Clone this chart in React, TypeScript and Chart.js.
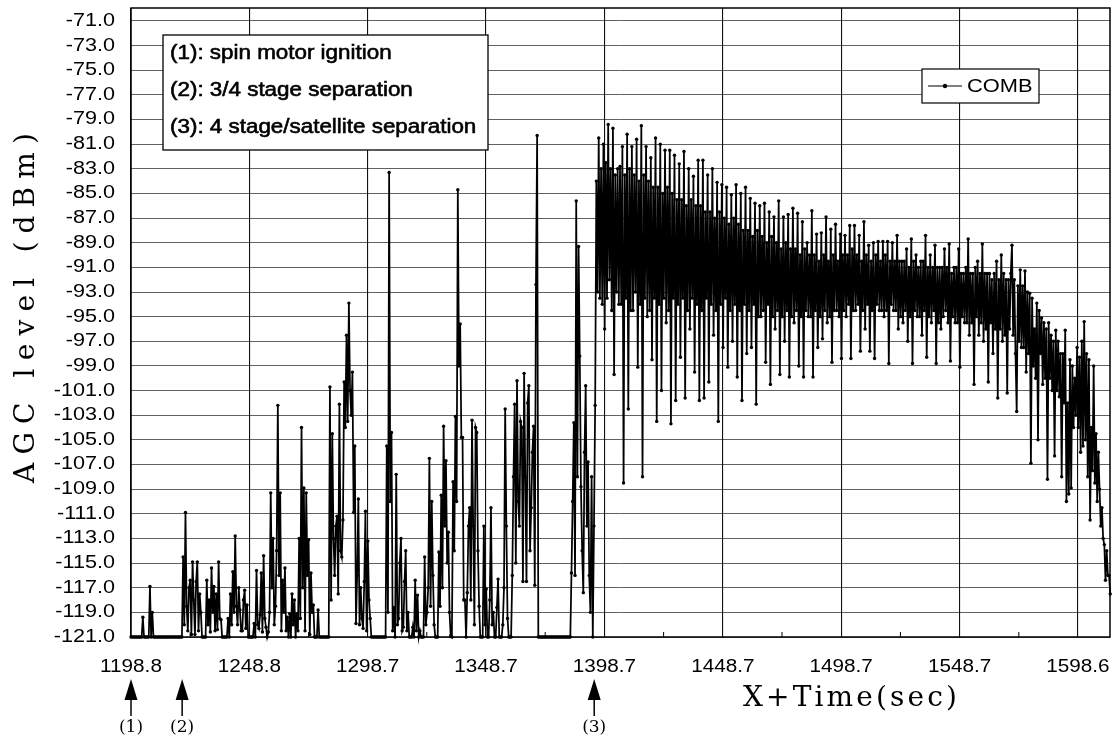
import React, { useEffect, useRef } from "react";
import { Chart, registerables } from "chart.js";

Chart.register(...registerables);

// ---- data: AGC level (dBm), one sample every 0.5 s starting at X+1198.8 s ----
const T_START = 1198.8;
const T_STEP = 0.5;
const AGC_VALUES: number[] = [
  // 1198.8 - 1220.3
  -121, -121, -121, -121, -121, -121, -121, -121, -121, -121,
  -119.4, -121, -121, -121, -121, -121, -116.9, -121, -119.0, -121,
  -121, -121, -121, -121, -121, -121, -121, -121, -121, -121,
  -121, -121, -121, -121, -121, -121, -121, -121, -121, -121,
  -121, -121, -121, -121,
  // 1220.8 - 1228.3
  -114.5, -120.0, -110.9, -118.5, -120.5, -117.0, -116.4, -120.8, -114.9, -118.0,
  -120.8, -116.5, -114.9, -120.5, -117.5, -119.0,
  -121, -121, -121, -121,
  // 1230.8 - 1237.3
  -116.4, -120.0, -118.0, -120.6, -115.4, -119.0, -116.9, -120.5, -117.5, -120.4,
  -114.9, -119.5, -119.6, -121,
  -121, -121, -121, -121,
  // 1239.8 - 1248.3
  -119.5, -121, -117.5, -120.0, -115.7, -119.0, -112.8, -118.5, -120.0, -117.0,
  -118.8, -120.5, -120.5, -118.0, -117.2, -120.3, -118.4, -121,
  -121, -121, -121, -121,
  // 1250.8 - 1257.3
  -119.9, -121, -115.6, -120.0, -120.3, -119.2, -115.8, -120.6, -114.4, -119.5,
  -120.2, -121, -120.6, -119.0,
  // 1257.8 - 1269.3
  -109.3, -117.0, -113.0, -120.0, -118.5, -114.0, -102.2, -116.0, -109.3, -120.5,
  -116.4, -119.0, -115.4, -120.5, -119.4, -121, -119.1, -121, -117.5, -120.0,
  -118.0, -121, -119.1, -120.5,
  // 1269.8 - 1278.3
  -113.0, -119.5, -104.0, -117.0, -108.9, -120.5, -109.3, -116.0, -113.1, -120.8,
  -115.8, -119.0, -118.4, -121, -121, -121, -118.8, -121,
  -121, -121, -121, -121, -121, -121, -121, -121,
  // 1282.8 - 1300.3
  -100.7, -118.0, -104.5, -113.0, -116.0, -112.0, -111.2, -117.5, -102.1, -114.0,
  -114.5, -111.5, -100.3, -104.0, -96.5, -103.5, -93.9, -101.0, -103.0, -99.5,
  -110.9, -105.5, -119.9, -116.0, -109.8, -120.0, -117.0, -119.5, -120.3, -116.5,
  -110.8, -120.5, -113.2, -118.0, -119.5, -121,
  -121, -121, -121, -121, -121, -121, -121, -121, -121, -121, -121, -121,
  // 1306.8 - 1316.3
  -105.5, -119.0, -83.3, -110.0, -104.4, -120.5, -118.6, -121, -107.8, -120.0,
  -119.5, -115.0, -113.0, -120.5, -120.2, -116.5, -114.0, -120.5, -119.0, -121,
  // 1316.8 - 1322.3
  -121, -121, -120.2, -121, -116.4, -120.5, -117.6, -121, -120.5, -121, -121, -121,
  // 1322.8 - 1334.3
  -114.5, -120.0, -119.0, -117.0, -106.5, -118.5, -110.0, -116.0, -120.0, -121,
  -121, -121, -114.1, -118.5, -109.5, -117.0, -103.9, -112.0, -106.7, -115.0,
  -112.5, -119.0, -120.9, -121,
  // 1334.8 - 1346.3
  -108.4, -114.0, -103.1, -110.0, -84.7, -99.0, -95.6, -104.8, -104.8, -118.0,
  -118.0, -121, -117.4, -112.0, -110.5, -118.0, -103.4, -112.0, -120.0, -104.0,
  -104.4, -114.0, -118.5, -121,
  // 1346.8 - 1359.3
  -121, -121, -112.0, -120.0, -117.1, -121, -121, -118.0, -110.5, -120.0,
  -119.0, -121, -121, -118.6, -116.3, -121, -121, -121, -120.0, -117.0,
  -102.5, -112.0, -119.5, -121, -121, -121,
  // 1359.8 - 1370.3
  -116.0, -108.0, -102.1, -115.0, -100.2, -110.0, -112.0, -103.5, -104.0, -116.5,
  -99.6, -108.0, -116.5, -102.0, -100.6, -114.0, -110.5, -106.0, -103.9, -116.8,
  -92.4, -80.3,
  // 1370.8 - 1384.3
  -121, -121, -121, -121, -121, -121, -121, -121, -121, -121,
  -121, -121, -121, -121, -121, -121, -121, -121, -121, -121,
  -121, -121, -121, -121, -121, -121, -121, -121,
  // 1384.8 - 1394.3
  -115.8, -110.0, -103.6, -116.0, -85.6, -108.0, -89.3, -98.2, -108.8, -114.0,
  -117.4, -106.0, -100.6, -112.0, -106.8, -116.0, -119.0, -108.0, -121, -112.0,
  // 1394.8 - 1414.3
  -102.2, -84.0, -93.0, -80.5, -93.5, -83.0, -94.0, -81.0,
  -96.0, -82.5, -93.5, -79.4, -92.0, -83.0, -94.5, -79.7,
  -99.7, -83.5, -93.0, -83.0, -94.0, -82.8, -94.0, -81.2,
  -108.5, -83.5, -93.5, -80.2, -102.5, -83.0, -94.5, -81.2,
  -94.5, -83.5, -93.0, -80.6, -99.1, -84.0, -94.0, -79.5,
  // 1414.8 - 1434.3
  -108.0, -83.5, -93.5, -81.2, -95.0, -84.0, -94.5, -82.1,
  -98.5, -84.5, -93.5, -80.5, -103.5, -84.5, -94.0, -81.0,
  -101.0, -85.0, -93.5, -81.5, -95.5, -84.5, -94.5, -81.5,
  -103.7, -85.0, -93.5, -81.9, -101.8, -85.5, -94.0, -82.6,
  -98.3, -85.5, -93.5, -81.6, -101.6, -86.0, -94.5, -83.0,
  // 1434.8 - 1454.3
  -96.0, -85.5, -93.5, -83.6, -99.5, -86.0, -94.0, -82.3,
  -101.8, -86.0, -94.5, -82.3, -101.6, -86.5, -93.5, -83.5,
  -100.3, -86.5, -94.0, -83.0, -96.5, -87.0, -94.5, -84.1,
  -103.5, -86.5, -94.0, -84.3, -97.5, -87.0, -93.5, -84.5,
  -99.1, -87.5, -94.5, -85.1, -97.0, -87.0, -94.0, -84.3,
  // 1454.8 - 1474.3
  -99.9, -87.5, -94.5, -85.0, -101.8, -88.0, -94.0, -84.5,
  -98.0, -88.0, -94.5, -85.4, -97.5, -88.5, -94.0, -85.8,
  -102.1, -88.0, -95.0, -86.0, -95.0, -88.5, -94.5, -85.8,
  -98.7, -89.0, -94.0, -86.5, -100.5, -88.5, -95.0, -86.9,
  -96.0, -89.0, -94.5, -85.6, -99.7, -89.5, -95.0, -86.9,
  // 1474.8 - 1494.3
  -97.0, -89.0, -94.5, -86.7, -99.9, -89.5, -95.0, -86.2,
  -95.5, -89.5, -94.5, -86.6, -99.0, -90.0, -95.0, -87.3,
  -99.9, -89.5, -94.5, -89.0, -95.0, -90.0, -95.0, -86.4,
  -99.9, -90.0, -94.5, -88.3, -97.5, -90.5, -95.0, -88.2,
  -96.8, -90.0, -94.5, -86.9, -95.5, -90.5, -95.0, -87.9,
  // 1494.8 - 1514.3
  -98.7, -90.0, -94.5, -87.5, -94.5, -90.5, -95.0, -88.3,
  -98.4, -90.0, -94.5, -88.4, -95.0, -90.0, -94.0, -87.6,
  -98.4, -89.5, -94.5, -87.6, -94.5, -90.0, -94.0, -88.4,
  -97.8, -90.5, -94.5, -87.3, -96.0, -90.0, -94.0, -89.2,
  -97.8, -90.5, -94.5, -89.0, -98.4, -90.0, -94.0, -88.9,
  // 1514.8 - 1534.3
  -94.5, -90.5, -94.5, -88.9, -95.0, -90.0, -94.5, -88.9,
  -98.8, -90.5, -94.0, -89.0, -94.5, -90.5, -94.5, -88.4,
  -96.0, -90.5, -95.0, -90.5, -95.5, -90.5, -94.5, -89.5,
  -97.0, -91.0, -95.0, -88.7, -98.8, -90.5, -94.5, -90.0,
  -95.0, -91.0, -95.0, -90.5, -96.5, -90.5, -94.5, -88.4,
  // 1534.8 - 1554.3
  -98.3, -91.0, -95.0, -90.0, -95.5, -91.0, -94.5, -89.2,
  -98.8, -91.0, -95.5, -91.0, -96.0, -91.0, -95.0, -89.5,
  -94.5, -91.0, -95.5, -89.1, -98.6, -91.5, -95.0, -91.0,
  -95.5, -91.0, -95.5, -89.5, -99.1, -91.5, -95.0, -91.5,
  -95.5, -91.0, -95.5, -88.7, -96.5, -91.5, -95.5, -91.5,
  // 1554.8 - 1574.3
  -100.5, -91.0, -95.0, -90.5, -96.5, -91.5, -95.5, -89.1,
  -97.0, -91.5, -96.0, -91.5, -100.3, -91.5, -95.5, -92.0,
  -98.0, -91.5, -96.0, -90.5, -101.6, -92.0, -96.0, -90.0,
  -97.0, -91.5, -96.5, -92.0, -101.2, -92.0, -96.0, -91.5,
  -89.2, -96.5, -92.0, -98.0, -102.7, -92.5, -97.0, -91.2,
  // 1574.8 - 1594.3
  -97.5, -92.5, -97.5, -91.3, -99.5, -93.0, -98.0, -93.1, -106.9, -93.5,
  -99.0, -96.0, -100.0, -93.9, -105.0, -94.5, -98.0, -95.1, -100.5, -95.5,
  -100.0, -96.0, -108.2, -95.5, -100.0, -96.5, -101.0, -97.0, -106.3, -96.1,
  -101.0, -97.0, -101.5, -98.0, -108.0, -98.0, -102.0, -96.1, -110.0, -102.0,
  // 1594.8 - 1612.3
  -109.4, -98.5, -108.9, -99.0, -104.0, -100.0, -103.0, -97.5, -104.0, -98.3,
  -106.0, -97.0, -105.5, -95.4, -105.0, -98.0, -108.0, -98.5, -111.5, -104.0,
  -107.5, -99.0, -108.5, -104.5, -110.0, -106.0, -109.0, -112.0, -110.5, -113.0,
  -113.5, -116.4, -114.0, -116.0, -116.0, -117.5,
];

const SERIES_NAME = "COMB";
const X_TICKS = [1198.8, 1248.8, 1298.7, 1348.7, 1398.7, 1448.7, 1498.7, 1548.7, 1598.6];
const X_MINOR_TICKS = [1223.8, 1273.8, 1323.7, 1373.7, 1423.7, 1473.7, 1523.7, 1573.7];
const Y_TICKS = [
  -121, -119, -117, -115, -113, -111, -109, -107, -105, -103, -101, -99, -97,
  -95, -93, -91, -89, -87, -85, -83, -81, -79, -77, -75, -73, -71,
];
const X_MIN = 1198.8;
const X_MAX = 1612.2;
const Y_MIN = -121;
const Y_MAX = -69.95;

const EVENT_TIMES = [1198.8, 1220.4, 1394.4];
const EVENT_LABELS = ["(1)", "(2)", "(3)"];
const NOTE_LINES = [
  "(1): spin motor ignition",
  "(2): 3/4 stage separation",
  "(3): 4 stage/satellite separation",
];
const X_TITLE = "X+Time(sec)";
const Y_TITLE = "AGC level (dBm)";

const SANS = "'Liberation Sans', Arial, sans-serif";
const SERIF = "'DejaVu Serif', serif";

function scaledText(
  ctx: CanvasRenderingContext2D,
  text: string,
  x: number,
  y: number,
  font: string,
  sx: number,
  align: "left" | "right" | "center",
  embolden = 0
) {
  ctx.save();
  ctx.font = font;
  const w = ctx.measureText(text).width * sx;
  const left = align === "left" ? x : align === "right" ? x - w : x - w / 2;
  ctx.translate(left, y);
  ctx.scale(sx, 1);
  ctx.textAlign = "left";
  ctx.textBaseline = "middle";
  ctx.fillStyle = "#000";
  ctx.fillText(text, 0, 0);
  if (embolden > 0) {
    ctx.strokeStyle = "#000";
    ctx.lineWidth = embolden;
    ctx.strokeText(text, 0, 0);
  }
  ctx.restore();
}

function spacedText(
  ctx: CanvasRenderingContext2D,
  text: string,
  cx: number,
  cy: number,
  font: string,
  length: number,
  rotate: boolean
) {
  ctx.save();
  ctx.font = font;
  ctx.fillStyle = "#000";
  ctx.textAlign = "left";
  ctx.textBaseline = "middle";
  const chars = Array.from(text);
  const widths = chars.map((c) => ctx.measureText(c).width);
  const natural = widths.reduce((a, b) => a + b, 0);
  const gap = chars.length > 1 ? (length - natural) / (chars.length - 1) : 0;
  ctx.translate(cx, cy);
  if (rotate) ctx.rotate(-Math.PI / 2);
  let pos = -length / 2;
  chars.forEach((c, i) => {
    ctx.fillText(c, pos, 0);
    pos += widths[i] + gap;
  });
  ctx.restore();
}

const overlayPlugin = {
  id: "agcOverlay",
  afterDraw(chart: any) {
    const ctx: CanvasRenderingContext2D = chart.ctx;
    const area = chart.chartArea;
    const xs = chart.scales.x;
    const ys = chart.scales.y;

    ctx.save();
    ctx.strokeStyle = "#000";
    ctx.lineWidth = 1.5;
    ctx.strokeRect(area.left, area.top, area.right - area.left, area.bottom - area.top);
    ctx.lineWidth = 1;
    X_MINOR_TICKS.forEach((t) => {
      const x = xs.getPixelForValue(t);
      ctx.beginPath();
      ctx.moveTo(x, area.bottom);
      ctx.lineTo(x, area.bottom - 5);
      ctx.stroke();
    });
    ctx.restore();

    Y_TICKS.forEach((v) => {
      scaledText(ctx, v.toFixed(1), 115, ys.getPixelForValue(v), `18px ${SANS}`, 1.2, "right");
    });
    X_TICKS.forEach((t) => {
      scaledText(ctx, t.toFixed(1), xs.getPixelForValue(t), 667, `18px ${SANS}`, 1.15, "center");
    });

    spacedText(ctx, X_TITLE, 850, 699, `28px ${SERIF}`, 214, false);
    spacedText(ctx, Y_TITLE, 27, 308, `28px ${SERIF}`, 350, true);

    EVENT_TIMES.forEach((t, i) => {
      const x = xs.getPixelForValue(t);
      ctx.save();
      ctx.fillStyle = "#000";
      ctx.strokeStyle = "#000";
      ctx.beginPath();
      ctx.moveTo(x, 679);
      ctx.lineTo(x - 6.5, 700);
      ctx.lineTo(x + 6.5, 700);
      ctx.closePath();
      ctx.fill();
      ctx.lineWidth = 1.5;
      ctx.beginPath();
      ctx.moveTo(x, 698);
      ctx.lineTo(x, 716);
      ctx.stroke();
      ctx.restore();
      scaledText(ctx, EVENT_LABELS[i], x, 728, `17px ${SERIF}`, 1.0, "center");
    });

    ctx.save();
    ctx.fillStyle = "#fff";
    ctx.fillRect(163, 35, 325, 115);
    ctx.strokeStyle = "#000";
    ctx.lineWidth = 1.3;
    ctx.strokeRect(163, 35, 325, 115);
    ctx.restore();
    NOTE_LINES.forEach((line, i) => {
      scaledText(ctx, line, 170, 53 + i * 37, `20px ${SANS}`, 1.12, "left", 0.6);
    });

    ctx.save();
    ctx.fillStyle = "#fff";
    ctx.fillRect(922, 69, 117, 34);
    ctx.strokeStyle = "#000";
    ctx.lineWidth = 1.2;
    ctx.strokeRect(922, 69, 117, 34);
    ctx.beginPath();
    ctx.moveTo(928, 86);
    ctx.lineTo(962, 86);
    ctx.stroke();
    ctx.fillStyle = "#000";
    ctx.beginPath();
    ctx.arc(945, 86, 2.2, 0, Math.PI * 2);
    ctx.fill();
    ctx.restore();
    scaledText(ctx, SERIES_NAME, 967, 87, `19px ${SANS}`, 1.15, "left");
  },
};

export default function App() {
  const canvasRef = useRef<HTMLCanvasElement | null>(null);

  useEffect(() => {
    const canvas = canvasRef.current;
    if (!canvas) return;
    const points = AGC_VALUES.map((v, i) => ({ x: T_START + i * T_STEP, y: v }));
    const chart = new Chart(canvas, {
      type: "line",
      data: {
        datasets: [
          {
            label: SERIES_NAME,
            data: points,
            borderColor: "#000",
            borderWidth: 1.75,
            pointRadius: 1.7,
            pointBackgroundColor: "#000",
            pointBorderWidth: 0,
            pointHoverRadius: 0,
            tension: 0,
            clip: false as any,
          },
        ],
      },
      options: {
        animation: false,
        responsive: false,
        maintainAspectRatio: false,
        devicePixelRatio: 1,
        events: [],
        layout: { padding: { left: 131, top: 8, right: 6, bottom: 101 } },
        plugins: { legend: { display: false }, tooltip: { enabled: false } },
        scales: {
          x: {
            type: "linear",
            min: X_MIN,
            max: X_MAX,
            afterBuildTicks: (s: any) => {
              s.ticks = X_TICKS.map((v) => ({ value: v }));
            },
            afterFit: (s: any) => {
              s.height = 0;
            },
            ticks: { display: false },
            grid: { color: "#111", lineWidth: 1.1, drawTicks: false },
            border: { display: false },
          },
          y: {
            type: "linear",
            min: Y_MIN,
            max: Y_MAX,
            afterBuildTicks: (s: any) => {
              s.ticks = Y_TICKS.map((v) => ({ value: v }));
            },
            afterFit: (s: any) => {
              s.width = 0;
            },
            ticks: { display: false },
            grid: { color: "rgba(0,0,0,0.62)", lineWidth: 1, drawTicks: false },
            border: { display: false },
          },
        },
      },
      plugins: [overlayPlugin],
    });
    return () => chart.destroy();
  }, []);

  return (
    <div style={{ position: "absolute", left: 0, top: 0, width: 1116, height: 738, background: "#fff" }}>
      <canvas ref={canvasRef} width={1116} height={738} style={{ display: "block" }} />
    </div>
  );
}
